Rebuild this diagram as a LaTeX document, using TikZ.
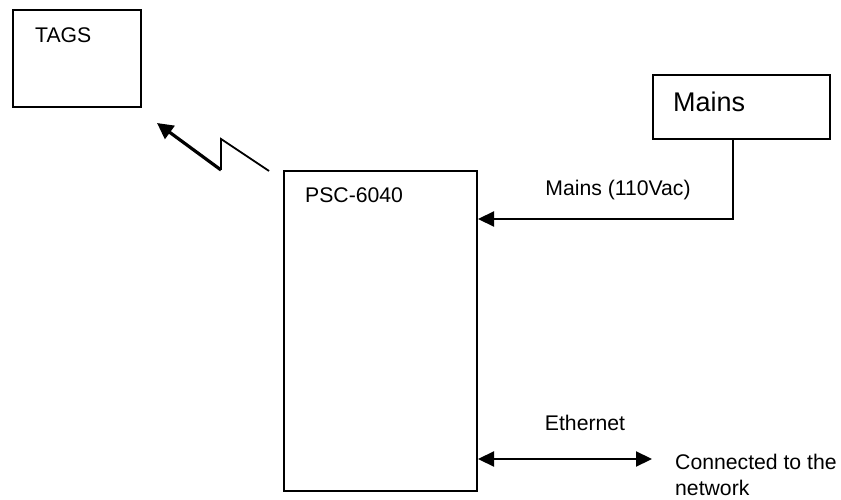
\documentclass[tikz,border=0pt]{standalone}
\usepackage{fontspec}
\setmainfont{Liberation Sans}
\usetikzlibrary{arrows.meta}
\begin{document}
\begin{tikzpicture}[x=1pt,y=-1pt,
  boxstyle/.style={draw,line width=2pt,inner sep=0pt},
  txt/.style={inner sep=0pt,font=\fontsize{21.2}{26}\selectfont},
  conn/.style={line width=2.2pt,-{Triangle[length=16pt,width=15pt]}},
  both/.style={line width=2.2pt,{Triangle[length=16pt,width=15pt]}-{Triangle[length=16pt,width=15pt]}}]
\useasboundingbox (0,0) rectangle (841,500);
\node[boxstyle,minimum width=128pt,minimum height=97pt] (tags) at (77,58.5) {};
\node[txt,anchor=west] (tagst) at (35,35) {TAGS};
\node[boxstyle,minimum width=193pt,minimum height=320pt] (psc) at (380.5,331) {};
\node[txt,anchor=west] (psct) at (305,195) {PSC-6040};
\node[boxstyle,minimum width=177pt,minimum height=64pt] (mains) at (741.5,107) {};
\node[inner sep=0pt,anchor=west,font=\fontsize{27}{32}\selectfont] (mainst) at (673,102) {Mains};
% mains connection
\coordinate (mc) at (733,219);
\draw[conn] (mains.south -| mc) -- (mc) -- (mc -| psc.east);
\node[txt] (ml) at (618,190) {Mains (110Vac)};
% ethernet
\coordinate (net) at (652,459);
\draw[both] (psc.east |- net) -- (net);
\node[txt] (el) at (585,423) {Ethernet};
\node[txt,anchor=west,align=left] (cn) at (675,475) {Connected to the\\network};
% wireless
\coordinate (z1) at (221,170);
\coordinate (z2) at (221,139);
\coordinate (z3) at (269,171);
\coordinate (tip) at (157,123);
\draw[line width=1.8pt] (z3) -- (z2) -- (z1);
\draw[line width=3.2pt,-{Triangle[length=16pt,width=16pt]}] (z1) -- (tip);
\end{tikzpicture}
\end{document}
